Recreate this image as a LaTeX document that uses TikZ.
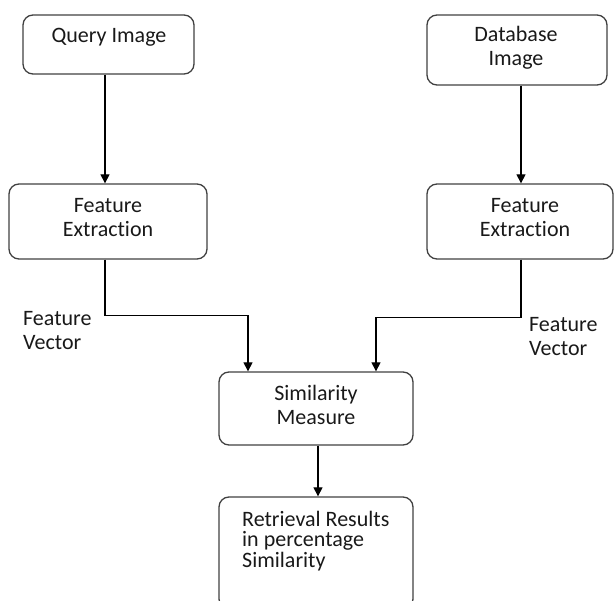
\documentclass[tikz,border=0pt]{standalone}
\usepackage{fontspec}
\setmainfont{Carlito}[Ligatures=NoCommon]
\usetikzlibrary{arrows.meta,calc}
\tikzset{
  box/.style={draw=black!75, line width=1.3pt, rounded corners=10pt, inner sep=0pt},
  lbl/.style={inner sep=0pt, align=center, text=black!90,
              font=\fontsize{22}{24}\selectfont},
  lblleft/.style={lbl, align=left},
  arr/.style={draw=black, line width=1.2pt, -{Triangle[length=9pt,width=9pt]}},
}
\begin{document}
\begin{tikzpicture}[x=1pt,y=-1pt]
  \useasboundingbox (0,0) rectangle (614,601);
  \clip (0,0) rectangle (614,601);

  % boxes
  \node[box, minimum width=171pt, minimum height=59pt]  (query) at (108.5,44.5) {};
  \node[box, minimum width=180pt, minimum height=70pt]  (db)    at (517,50) {};
  \node[box, minimum width=198pt, minimum height=75pt]  (fe1)   at (108,221.5) {};
  \node[box, minimum width=186pt, minimum height=75pt]  (fe2)   at (520,221.5) {};
  \node[box, minimum width=194pt, minimum height=73pt]  (sim)   at (316,408.5) {};
  \node[box, minimum width=194pt, minimum height=112pt] (retr)  at (316,553) {};

  % box texts
  \node[lbl] (tquery) at (109,37) {Query Image};
  \node[lbl] (tdb)    at (516,48) {Database\\Image};
  \node[lbl] (tfe1)   at (108,218) {Feature\\Extraction};
  \node[lbl] (tfe2)   at (525,218) {Feature\\Extraction};
  \node[lbl] (tsim)   at (316,405) {Similarity\\Measure};
  \node[lblleft, font=\fontsize{22}{20.5}\selectfont, anchor=north west]
        (tretr) at (242,511) {Retrieval Results\\in percentage\\Similarity};

  % connector labels
  \node[lblleft, anchor=north west] (fvl) at (23,311) {Feature\\Vector};
  \node[lblleft, anchor=north west] (fvr) at (529,317) {Feature\\Vector};

  % connectors
  \draw[arr] ([xshift=-3.5pt]query.south) -- ([xshift=-3.5pt]query.south |- fe1.north);
  \draw[arr] ([xshift=4pt]db.south) -- ([xshift=4pt]db.south |- fe2.north);
  \draw[arr] ([xshift=-3pt]fe1.south) -- ++(0,56) -| ([xshift=-68pt]sim.north);
  \draw[arr] ([xshift=1pt]fe2.south) -- ++(0,58) -| ([xshift=60pt]sim.north);
  \draw[arr] ([xshift=2pt]sim.south) -- ([xshift=2pt]retr.north);
\end{tikzpicture}
\end{document}
